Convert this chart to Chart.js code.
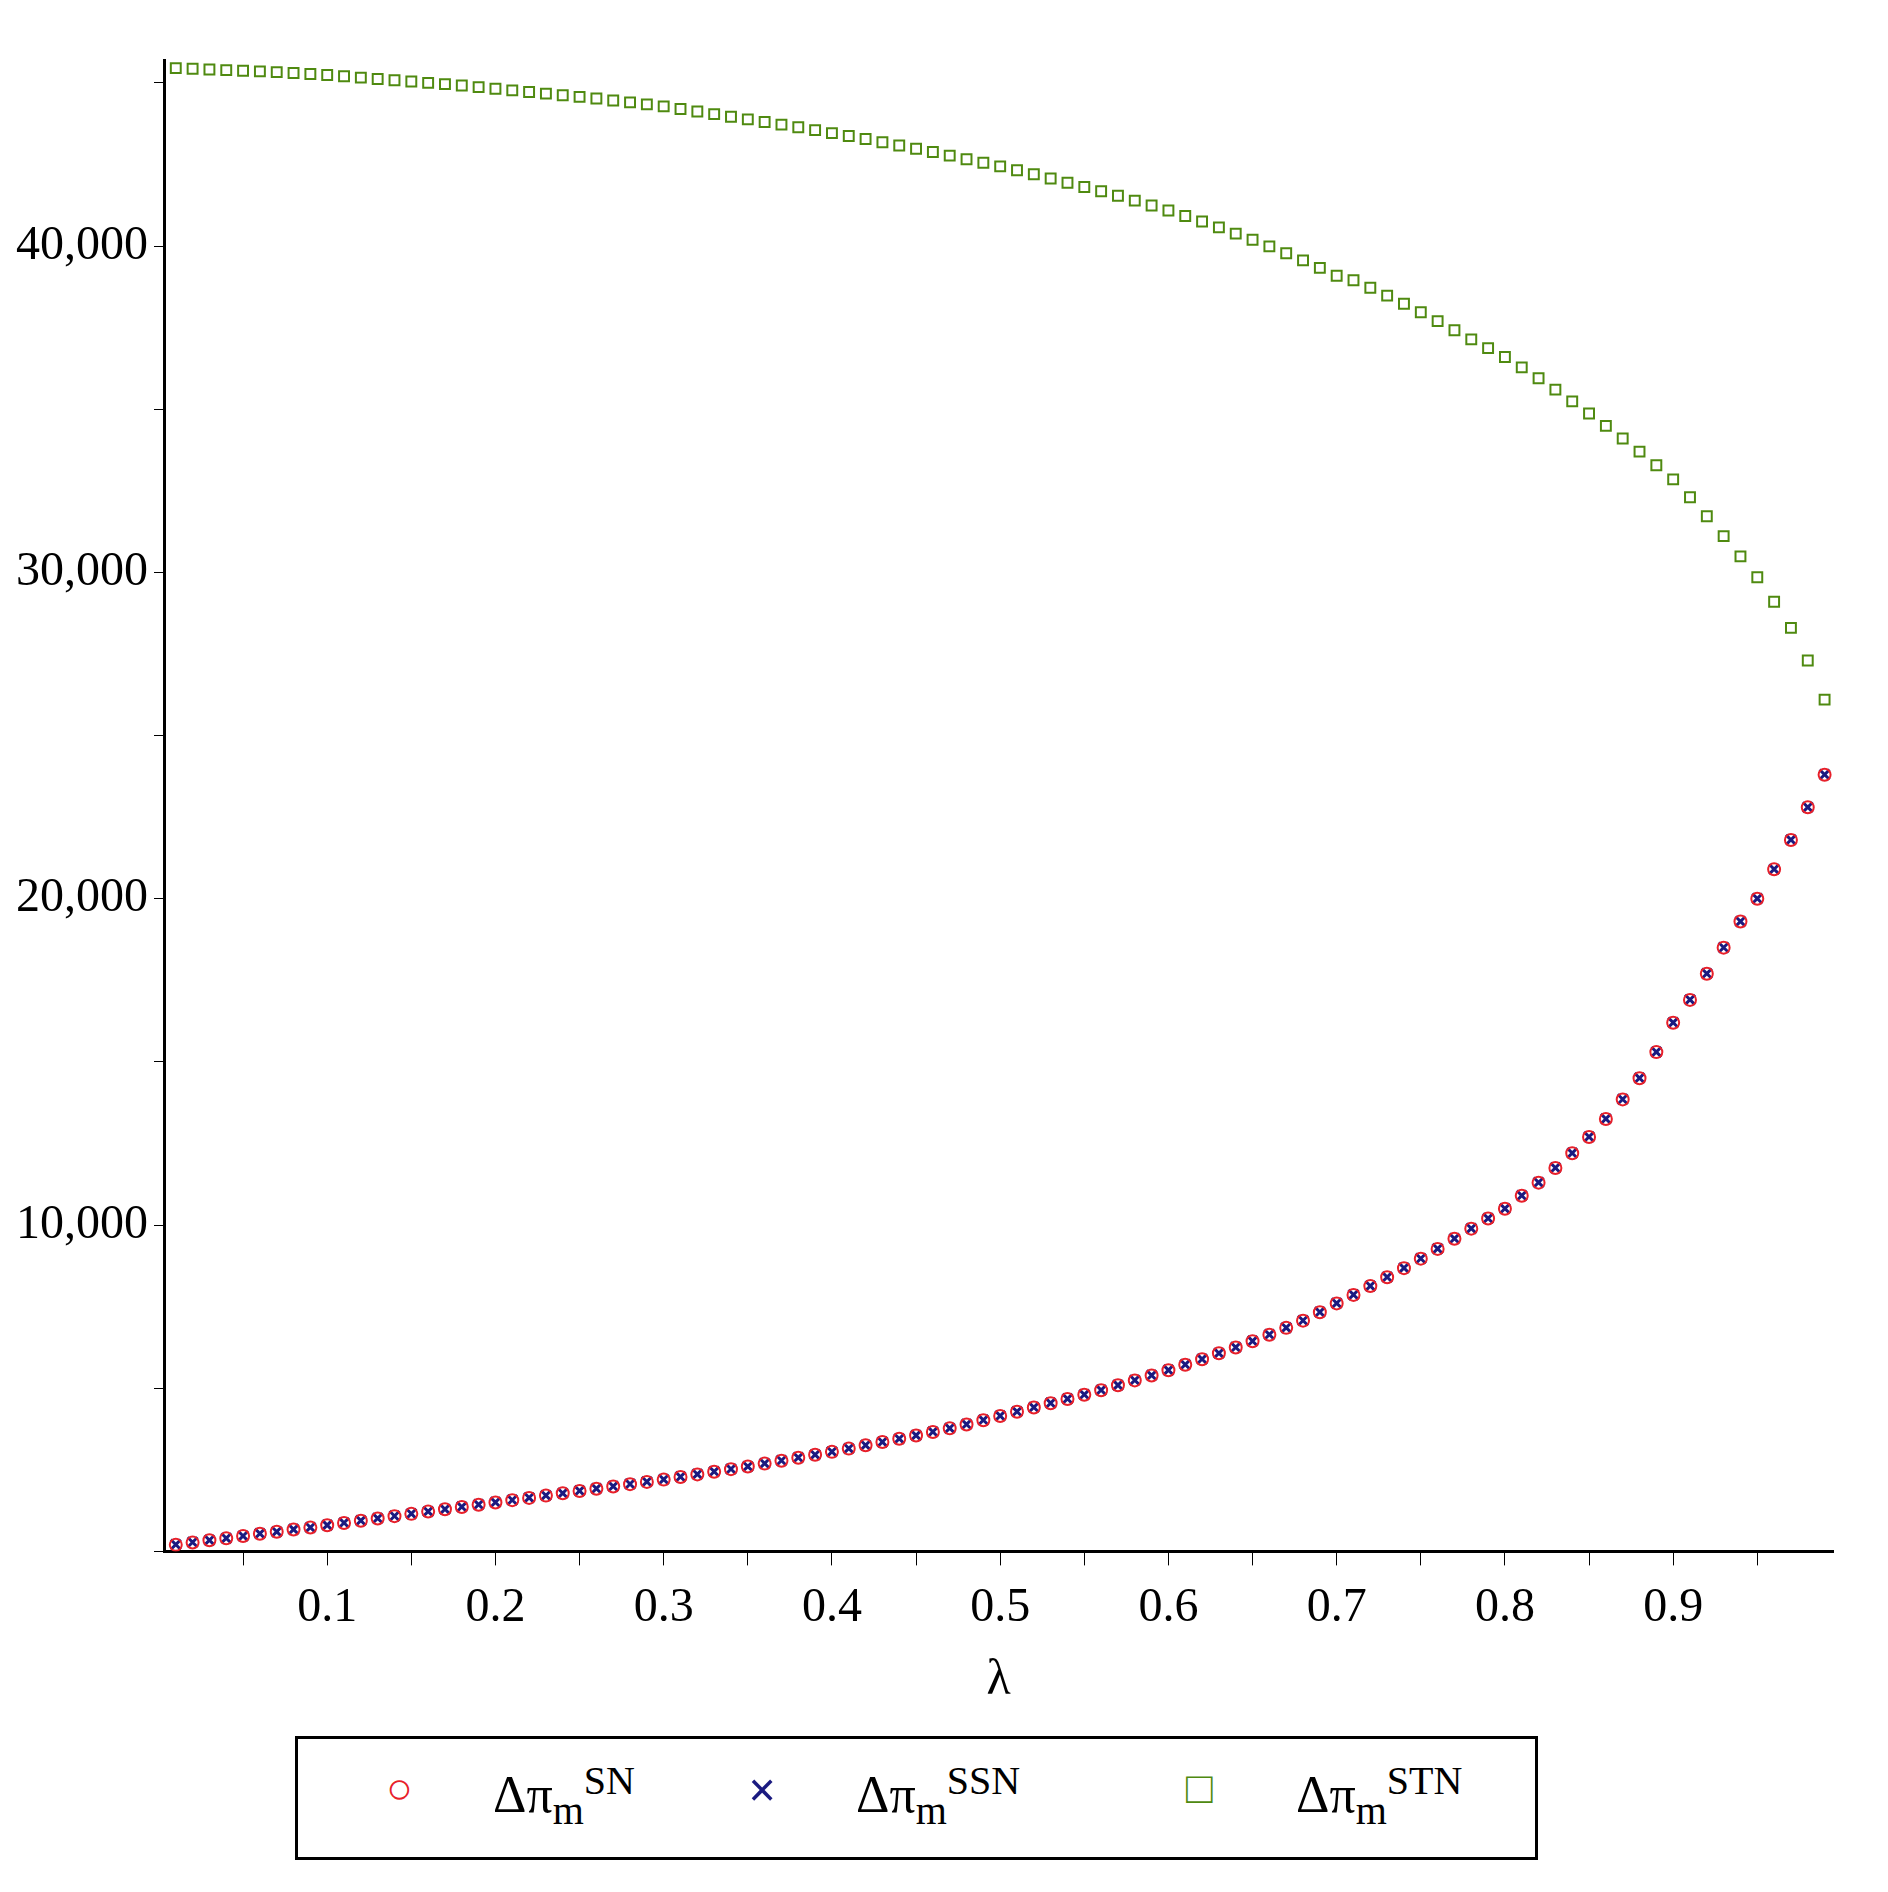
<!DOCTYPE html>
<html><head><meta charset="utf-8">
<script src="https://cdn.jsdelivr.net/npm/chart.js@4"></script>
<style>
body{margin:0;background:#fff;width:1888px;height:1892px;overflow:hidden;font-family:"Liberation Serif",serif}
#wrap{position:absolute;left:0;top:0;width:1888px;height:1715px}
#legend{position:absolute;left:295px;top:1736px;width:1243px;height:124px;border:3px solid #000;box-sizing:border-box;font-size:52px;color:#000}
.it{position:absolute;top:18px;white-space:nowrap}
sup,sub{font-size:40px}
</style></head><body>
<div id="wrap"><canvas id="c" width="1888" height="1715" style="width:1888px;height:1715px"></canvas></div>
<div id="legend">
<span class="it" style="left:88px;top:24px;color:#e8202a;font-size:44px">○</span>
<span class="it" style="left:195px">Δπ<sub>m</sub><sup>SN</sup></span>
<span class="it" style="left:450px;top:22px;color:#1a1a80;font-size:50px;font-weight:bold">×</span>
<span class="it" style="left:558px">Δπ<sub>m</sub><sup>SSN</sup></span>
<span class="it" style="left:888px;top:24px;color:#4f8a10;font-size:44px">□</span>
<span class="it" style="left:998px">Δπ<sub>m</sub><sup>STN</sup></span>
</div>
<script>
const lambdas = [];
for (let i = 1; i <= 99; i++) lambdas.push(i / 100);
const sn = [200,270,340,400,470,540,600,670,730,800,
870,940,1010,1080,1150,1220,1290,1360,1430,1500,
1570,1640,1710,1780,1850,1920,1990,2060,2130,2200,
2280,2360,2440,2520,2600,2690,2780,2870,2960,3050,
3150,3250,3350,3450,3550,3660,3770,3890,4020,4150,
4280,4410,4540,4670,4800,4940,5090,5240,5390,5550,
5720,5890,6070,6250,6440,6640,6850,7070,7330,7600,
7860,8130,8400,8680,8970,9270,9580,9890,10200,10500,
10900,11300,11750,12200,12700,13250,13850,14500,15300,16200,
16900,17700,18500,19300,20000,20900,21800,22800,23800];
const ssn = [210,280,345,405,475,545,605,675,735,805,
875,945,1015,1085,1155,1225,1295,1365,1435,1505,
1575,1645,1715,1785,1855,1925,1995,2065,2135,2205,
2285,2365,2445,2525,2605,2695,2785,2875,2965,3055,
3155,3255,3355,3455,3555,3665,3775,3895,4025,4155,
4285,4415,4545,4675,4805,4945,5095,5245,5395,5555,
5725,5895,6075,6255,6445,6645,6855,7075,7335,7605,
7865,8135,8405,8685,8975,9275,9585,9895,10205,10505,
10905,11305,11755,12205,12705,13255,13855,14505,15305,16205,
16905,17705,18505,19305,20005,20905,21805,22805,23805];
const stn = [45450,45430,45410,45390,45370,45350,45330,45300,45270,45240,
45200,45160,45120,45080,45040,45000,44960,44920,44870,44820,
44770,44720,44670,44620,44570,44520,44460,44400,44340,44280,
44200,44120,44040,43960,43880,43800,43720,43640,43550,43460,
43370,43280,43180,43080,42980,42880,42770,42660,42550,42440,
42320,42200,42070,41940,41810,41680,41540,41390,41240,41090,
40920,40750,40570,40380,40190,39990,39780,39560,39330,39090,
38950,38720,38480,38230,37970,37700,37420,37140,36870,36600,
36280,35950,35600,35240,34870,34490,34100,33700,33280,32850,
32300,31720,31110,30490,29850,29100,28300,27300,26100];
const xTicks = [0.05,0.1,0.15,0.2,0.25,0.3,0.35,0.4,0.45,0.5,0.55,0.6,0.65,0.7,0.75,0.8,0.85,0.9,0.95];
const yTicks = [0,5000,10000,15000,20000,25000,30000,35000,40000,45000];

const pts = a => a.map((v, i) => ({x: lambdas[i], y: v}));
new Chart(document.getElementById('c'), {
  type: 'scatter',
  data: { datasets: [
    {label:'STN', data: pts(stn), pointStyle:'rect', radius:7, borderColor:'#4f8a10', backgroundColor:'rgba(0,0,0,0)', borderWidth:2},
    {label:'SN', data: pts(sn), pointStyle:'circle', radius:6, borderColor:'#e8202a', backgroundColor:'rgba(0,0,0,0)', borderWidth:2},
    {label:'SSN', data: pts(ssn), pointStyle:'crossRot', radius:7, borderColor:'#1a1a80', borderWidth:3}
  ]},
  options: {
    responsive:false, animation:false, devicePixelRatio:1,
    layout:{padding:{left:10,right:55,top:60,bottom:0}},
    plugins:{legend:{display:false}, tooltip:{enabled:false}},
    scales:{
      x:{type:'linear', min:0.003, max:0.995,
        afterBuildTicks: ax => { ax.ticks = xTicks.map(v => ({value:v})); },
        grid:{drawOnChartArea:false, drawTicks:true, tickLength:14, color:'#000'},
        border:{color:'#000', width:3},
        ticks:{color:'#000', font:{family:'Liberation Serif', size:48}, padding:14, autoSkip:false, maxRotation:0,
          callback: v => (Math.abs(v*10 - Math.round(v*10)) < 1e-6) ? String(Math.round(v*10)/10) : ''},
        title:{display:true, text:'λ', color:'#000', font:{family:'Liberation Serif', size:50}, padding:{top:0}}
      },
      y:{type:'linear', min:0, max:45700,
        afterBuildTicks: ax => { ax.ticks = yTicks.map(v => ({value:v})); },
        grid:{drawOnChartArea:false, drawTicks:true, tickLength:10, color:'#000'},
        border:{color:'#000', width:3},
        ticks:{color:'#000', font:{family:'Liberation Serif', size:48}, padding:6, autoSkip:false,
          callback: v => (v > 0 && v % 10000 === 0) ? v.toLocaleString('en-US') : ''}
      }
    }
  }
});
</script>
</body></html>
